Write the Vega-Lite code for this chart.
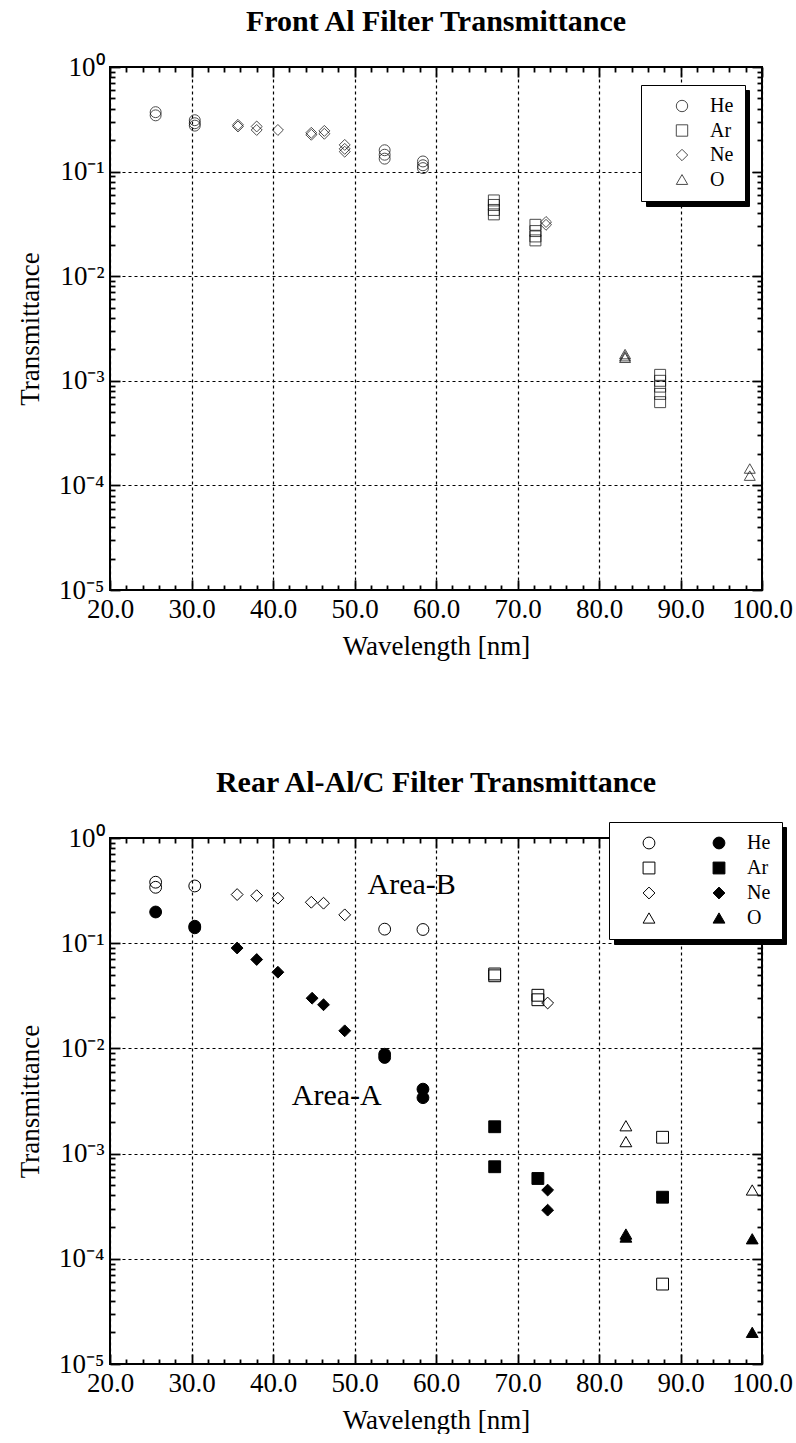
{
  "$schema": "https://vega.github.io/schema/vega-lite/v6.json",
  "background": "white",
  "padding": {"left": 15, "top": 6, "right": 0, "bottom": 0},
  "spacing": 106,
  "resolve": {"scale": {"shape": "independent", "fill": "independent", "stroke": "independent", "color": "independent"}, "legend": {"shape": "independent", "fill": "independent", "stroke": "independent", "color": "independent"}},
  "config": {
    "font": "Liberation Serif",
    "view": {"stroke": "black", "strokeWidth": 2},
    "axis": {"labelFont": "Liberation Serif", "titleFont": "Liberation Serif", "labelColor": "black", "titleColor": "black", "titleFontWeight": "normal", "labelFontSize": 27, "titleFontSize": 27, "domain": false, "tickColor": "black", "gridColor": "black", "gridDash": [3, 3], "gridWidth": 1.2, "tickWidth": 1.8}
  },
  "vconcat": [
    {
      "title": {"text": "Front Al Filter Transmittance", "fontSize": 30, "font": "Liberation Serif", "fontWeight": "bold", "color": "black", "anchor": "middle", "frame": "group", "baseline": "alphabetic", "offset": -8},
      "width": 652,
      "height": 523,
      "data": {"values": [
        {"element": "He", "wavelength": 25.6, "transmittance": 0.37},
        {"element": "He", "wavelength": 25.6, "transmittance": 0.345},
        {"element": "He", "wavelength": 30.4, "transmittance": 0.31},
        {"element": "He", "wavelength": 30.4, "transmittance": 0.29},
        {"element": "He", "wavelength": 30.4, "transmittance": 0.275},
        {"element": "Ne", "wavelength": 35.7, "transmittance": 0.28},
        {"element": "Ne", "wavelength": 35.7, "transmittance": 0.27},
        {"element": "Ne", "wavelength": 38.0, "transmittance": 0.27},
        {"element": "Ne", "wavelength": 38.0, "transmittance": 0.25},
        {"element": "Ne", "wavelength": 40.6, "transmittance": 0.25},
        {"element": "Ne", "wavelength": 44.7, "transmittance": 0.235},
        {"element": "Ne", "wavelength": 44.7, "transmittance": 0.225},
        {"element": "Ne", "wavelength": 46.3, "transmittance": 0.245},
        {"element": "Ne", "wavelength": 46.3, "transmittance": 0.23},
        {"element": "Ne", "wavelength": 48.8, "transmittance": 0.18},
        {"element": "Ne", "wavelength": 48.8, "transmittance": 0.165},
        {"element": "Ne", "wavelength": 48.8, "transmittance": 0.155},
        {"element": "He", "wavelength": 53.7, "transmittance": 0.16},
        {"element": "He", "wavelength": 53.7, "transmittance": 0.145},
        {"element": "He", "wavelength": 53.7, "transmittance": 0.133},
        {"element": "He", "wavelength": 58.4, "transmittance": 0.125},
        {"element": "He", "wavelength": 58.4, "transmittance": 0.115},
        {"element": "He", "wavelength": 58.4, "transmittance": 0.108},
        {"element": "Ar", "wavelength": 67.1, "transmittance": 0.053},
        {"element": "Ar", "wavelength": 67.1, "transmittance": 0.048},
        {"element": "Ar", "wavelength": 67.1, "transmittance": 0.043},
        {"element": "Ar", "wavelength": 67.1, "transmittance": 0.039},
        {"element": "Ar", "wavelength": 72.2, "transmittance": 0.031},
        {"element": "Ar", "wavelength": 72.2, "transmittance": 0.027},
        {"element": "Ar", "wavelength": 72.2, "transmittance": 0.024},
        {"element": "Ar", "wavelength": 72.2, "transmittance": 0.022},
        {"element": "Ne", "wavelength": 73.5, "transmittance": 0.033},
        {"element": "Ne", "wavelength": 73.5, "transmittance": 0.031},
        {"element": "O", "wavelength": 83.2, "transmittance": 0.0018},
        {"element": "O", "wavelength": 83.2, "transmittance": 0.00172},
        {"element": "O", "wavelength": 83.2, "transmittance": 0.00166},
        {"element": "Ar", "wavelength": 87.5, "transmittance": 0.00114},
        {"element": "Ar", "wavelength": 87.5, "transmittance": 0.001},
        {"element": "Ar", "wavelength": 87.5, "transmittance": 0.00088},
        {"element": "Ar", "wavelength": 87.5, "transmittance": 0.00075},
        {"element": "Ar", "wavelength": 87.5, "transmittance": 0.000625},
        {"element": "O", "wavelength": 98.5, "transmittance": 0.000145},
        {"element": "O", "wavelength": 98.5, "transmittance": 0.000124}
      ]},
      "layer": [
        {
          "mark": {"type": "point", "filled": false, "size": 120, "strokeWidth": 1, "color": "black"},
          "encoding": {
            "x": {"field": "wavelength", "type": "quantitative", "scale": {"domain": [20, 100], "nice": false, "zero": false},
              "axis": {"orient": "bottom", "title": "Wavelength [nm]", "values": [20,22,24,26,28,30,32,34,36,38,40,42,44,46,48,50,52,54,56,58,60,62,64,66,68,70,72,74,76,78,80,82,84,86,88,90,92,94,96,98,100], "labelExpr": "datum.value % 10 === 0 ? format(datum.value, '.1f') : ''", "labelFlush": false, "labelOverlap": false, "labelPadding": 16, "titlePadding": 6, "grid": true, "gridOpacity": {"condition": {"test": "datum.value % 10 !== 0", "value": 0}, "value": 1}, "ticks": true, "tickSize": {"condition": {"test": "datum.value % 10 === 0", "value": -10}, "value": -5}}},
            "y": {"field": "transmittance", "type": "quantitative", "scale": {"type": "log", "domain": [0.00001, 1], "nice": false},
              "axis": {"orient": "left", "title": "Transmittance", "values": [0.00001,0.00002,0.00003,0.00004,0.00005,0.00006,0.00007,0.00008,0.00009,0.0001,0.0002,0.0003,0.0004,0.0005,0.0006,0.0007,0.0008,0.0009,0.001,0.002,0.003,0.004,0.005,0.006,0.007,0.008,0.009,0.01,0.02,0.03,0.04,0.05,0.06,0.07,0.08,0.09,0.1,0.2,0.3,0.4,0.5,0.6,0.7,0.8,0.9,1], "labelExpr": "abs(log(datum.value)/LN10 - round(log(datum.value)/LN10)) < 0.001 ? '10' + ['⁰','⁻¹','⁻²','⁻³','⁻⁴','⁻⁵'][-round(log(datum.value)/LN10)] : ''", "labelOverlap": false, "labelPadding": 16, "titlePadding": 14, "grid": true, "gridOpacity": {"condition": {"test": "abs(log(datum.value)/LN10 - round(log(datum.value)/LN10)) < 0.001", "value": 1}, "value": 0}, "ticks": true, "tickSize": {"condition": {"test": "abs(log(datum.value)/LN10 - round(log(datum.value)/LN10)) < 0.001", "value": -10}, "value": -5}}},
            "shape": {"field": "element", "type": "nominal", "scale": {"domain": ["He", "Ar", "Ne", "O"], "range": ["circle", "square", "diamond", "triangle-up"]},
              "legend": {"orient": "none", "legendX": 531, "legendY": 18, "zindex": 2, "title": null, "direction": "vertical", "strokeColor": "black", "fillColor": "white", "padding": 11, "symbolSize": 130, "symbolStrokeColor": "black", "symbolStrokeWidth": 1, "symbolFillColor": "transparent", "symbolOffset": 20, "labelOffset": 18, "labelFontSize": 20, "labelFont": "Liberation Serif", "labelColor": "black", "rowPadding": 4.5}}
          }
        },
        {
          "mark": {"type": "point", "opacity": 0},
          "encoding": {
            "x": {"field": "wavelength", "type": "quantitative", "scale": {"domain": [20, 100], "nice": false, "zero": false},
              "axis": {"orient": "top", "title": null, "labels": false, "grid": false, "values": [20,22,24,26,28,30,32,34,36,38,40,42,44,46,48,50,52,54,56,58,60,62,64,66,68,70,72,74,76,78,80,82,84,86,88,90,92,94,96,98,100], "ticks": true, "tickSize": {"condition": {"test": "datum.value % 10 === 0", "value": -10}, "value": -5}}},
            "y": {"field": "transmittance", "type": "quantitative", "scale": {"type": "log", "domain": [0.00001, 1], "nice": false},
              "axis": {"orient": "right", "title": null, "labels": false, "grid": false, "values": [0.00001,0.00002,0.00003,0.00004,0.00005,0.00006,0.00007,0.00008,0.00009,0.0001,0.0002,0.0003,0.0004,0.0005,0.0006,0.0007,0.0008,0.0009,0.001,0.002,0.003,0.004,0.005,0.006,0.007,0.008,0.009,0.01,0.02,0.03,0.04,0.05,0.06,0.07,0.08,0.09,0.1,0.2,0.3,0.4,0.5,0.6,0.7,0.8,0.9,1], "ticks": true, "tickSize": {"condition": {"test": "abs(log(datum.value)/LN10 - round(log(datum.value)/LN10)) < 0.001", "value": -10}, "value": -5}}},
            "color": {"field": "element", "type": "nominal", "scale": {"domain": ["O", "Ne", "Ar", "He"], "range": ["black", "black", "black", "black"]},
              "legend": {"orient": "none", "legendX": 536, "legendY": 23, "zindex": 1, "title": null, "direction": "vertical", "strokeColor": "black", "fillColor": "black", "padding": 11, "symbolSize": 130, "symbolOffset": 20, "labelOffset": 41, "labelFontSize": 20, "labelFont": "Liberation Serif", "labelColor": "black", "rowPadding": 4.5, "labelExpr": "''"}}
          }
        }
      ],
      "resolve": {"axis": {"x": "independent", "y": "independent"}}
    },
    {
      "title": {"text": "Rear Al-Al/C Filter Transmittance", "fontSize": 30, "font": "Liberation Serif", "fontWeight": "bold", "color": "black", "anchor": "middle", "frame": "group", "baseline": "alphabetic", "offset": 0},
      "width": 652,
      "height": 526,
      "data": {"values": [
        {"series": "He-B", "wavelength": 25.6, "transmittance": 0.38},
        {"series": "He-B", "wavelength": 25.6, "transmittance": 0.34},
        {"series": "He-B", "wavelength": 30.4, "transmittance": 0.35},
        {"series": "He-B", "wavelength": 53.7, "transmittance": 0.136},
        {"series": "He-B", "wavelength": 58.4, "transmittance": 0.135},
        {"series": "Ne-B", "wavelength": 35.6, "transmittance": 0.29},
        {"series": "Ne-B", "wavelength": 38.0, "transmittance": 0.283},
        {"series": "Ne-B", "wavelength": 40.6, "transmittance": 0.268},
        {"series": "Ne-B", "wavelength": 44.7, "transmittance": 0.245},
        {"series": "Ne-B", "wavelength": 46.2, "transmittance": 0.24},
        {"series": "Ne-B", "wavelength": 48.8, "transmittance": 0.186},
        {"series": "Ne-B", "wavelength": 73.7, "transmittance": 0.027},
        {"series": "Ar-B", "wavelength": 67.2, "transmittance": 0.051},
        {"series": "Ar-B", "wavelength": 67.2, "transmittance": 0.049},
        {"series": "Ar-B", "wavelength": 72.5, "transmittance": 0.032},
        {"series": "Ar-B", "wavelength": 72.5, "transmittance": 0.029},
        {"series": "Ar-B", "wavelength": 87.8, "transmittance": 0.00143},
        {"series": "Ar-B", "wavelength": 87.8, "transmittance": 0.0000575},
        {"series": "O-B", "wavelength": 83.3, "transmittance": 0.00184},
        {"series": "O-B", "wavelength": 83.3, "transmittance": 0.0013},
        {"series": "O-B", "wavelength": 98.8, "transmittance": 0.000451},
        {"series": "He-A", "wavelength": 25.6, "transmittance": 0.198},
        {"series": "He-A", "wavelength": 30.4, "transmittance": 0.145},
        {"series": "He-A", "wavelength": 30.4, "transmittance": 0.14},
        {"series": "He-A", "wavelength": 53.7, "transmittance": 0.0088},
        {"series": "He-A", "wavelength": 53.7, "transmittance": 0.0082},
        {"series": "He-A", "wavelength": 58.4, "transmittance": 0.0041},
        {"series": "He-A", "wavelength": 58.4, "transmittance": 0.0034},
        {"series": "Ne-A", "wavelength": 35.6, "transmittance": 0.09},
        {"series": "Ne-A", "wavelength": 38.0, "transmittance": 0.07},
        {"series": "Ne-A", "wavelength": 40.6, "transmittance": 0.053},
        {"series": "Ne-A", "wavelength": 44.8, "transmittance": 0.03},
        {"series": "Ne-A", "wavelength": 46.2, "transmittance": 0.026},
        {"series": "Ne-A", "wavelength": 48.8, "transmittance": 0.0147},
        {"series": "Ne-A", "wavelength": 73.7, "transmittance": 0.00045},
        {"series": "Ne-A", "wavelength": 73.7, "transmittance": 0.00029},
        {"series": "Ar-A", "wavelength": 67.2, "transmittance": 0.0018},
        {"series": "Ar-A", "wavelength": 67.2, "transmittance": 0.00075},
        {"series": "Ar-A", "wavelength": 72.5, "transmittance": 0.00058},
        {"series": "Ar-A", "wavelength": 87.8, "transmittance": 0.000385},
        {"series": "O-A", "wavelength": 83.3, "transmittance": 0.000172},
        {"series": "O-A", "wavelength": 83.3, "transmittance": 0.000161},
        {"series": "O-A", "wavelength": 98.8, "transmittance": 0.000155},
        {"series": "O-A", "wavelength": 98.8, "transmittance": 0.00002}
      ]},
      "layer": [
        {
          "mark": {"type": "point", "filled": true, "size": 140, "strokeWidth": 1, "opacity": 1},
          "encoding": {
            "x": {"field": "wavelength", "type": "quantitative", "scale": {"domain": [20, 100], "nice": false, "zero": false},
              "axis": {"orient": "bottom", "title": "Wavelength [nm]", "values": [20,22,24,26,28,30,32,34,36,38,40,42,44,46,48,50,52,54,56,58,60,62,64,66,68,70,72,74,76,78,80,82,84,86,88,90,92,94,96,98,100], "labelExpr": "datum.value % 10 === 0 ? format(datum.value, '.1f') : ''", "labelFlush": false, "labelOverlap": false, "labelPadding": 16, "titlePadding": 6, "grid": true, "gridOpacity": {"condition": {"test": "datum.value % 10 !== 0", "value": 0}, "value": 1}, "ticks": true, "tickSize": {"condition": {"test": "datum.value % 10 === 0", "value": -10}, "value": -5}}},
            "y": {"field": "transmittance", "type": "quantitative", "scale": {"type": "log", "domain": [0.00001, 1], "nice": false},
              "axis": {"orient": "left", "title": "Transmittance", "values": [0.00001,0.00002,0.00003,0.00004,0.00005,0.00006,0.00007,0.00008,0.00009,0.0001,0.0002,0.0003,0.0004,0.0005,0.0006,0.0007,0.0008,0.0009,0.001,0.002,0.003,0.004,0.005,0.006,0.007,0.008,0.009,0.01,0.02,0.03,0.04,0.05,0.06,0.07,0.08,0.09,0.1,0.2,0.3,0.4,0.5,0.6,0.7,0.8,0.9,1], "labelExpr": "abs(log(datum.value)/LN10 - round(log(datum.value)/LN10)) < 0.001 ? '10' + ['⁰','⁻¹','⁻²','⁻³','⁻⁴','⁻⁵'][-round(log(datum.value)/LN10)] : ''", "labelOverlap": false, "labelPadding": 16, "titlePadding": 14, "grid": true, "gridOpacity": {"condition": {"test": "abs(log(datum.value)/LN10 - round(log(datum.value)/LN10)) < 0.001", "value": 1}, "value": 0}, "ticks": true, "tickSize": {"condition": {"test": "abs(log(datum.value)/LN10 - round(log(datum.value)/LN10)) < 0.001", "value": -10}, "value": -5}}},
            "shape": {"field": "series", "type": "nominal", "scale": {"domain": ["He-B", "He-A", "Ar-B", "Ar-A", "Ne-B", "Ne-A", "O-B", "O-A"], "range": ["circle", "circle", "square", "square", "diamond", "diamond", "triangle-up", "triangle-up"]},
              "legend": {"orient": "none", "legendX": 499, "legendY": -16, "zindex": 2, "title": null, "direction": "horizontal", "columns": 2, "columnPadding": 13, "strokeColor": "black", "fillColor": "white", "padding": 11, "symbolSize": 140, "symbolStrokeColor": "black", "symbolStrokeWidth": 1, "symbolOffset": 19, "labelOffset": 18, "labelFontSize": 20, "labelFont": "Liberation Serif", "labelColor": "black", "rowPadding": 5, "labelExpr": "indexof(datum.label, '-A') > 0 ? replace(datum.label, '-A', '') : ''"}},
            "fill": {"field": "series", "type": "nominal", "scale": {"domain": ["He-B", "He-A", "Ar-B", "Ar-A", "Ne-B", "Ne-A", "O-B", "O-A"], "range": ["transparent", "black", "transparent", "black", "transparent", "black", "transparent", "black"]},
              "legend": {"orient": "none", "legendX": 499, "legendY": -16, "zindex": 2, "title": null, "direction": "horizontal", "columns": 2, "columnPadding": 13, "strokeColor": "black", "fillColor": "white", "padding": 11, "symbolSize": 140, "symbolStrokeColor": "black", "symbolStrokeWidth": 1, "symbolOffset": 19, "labelOffset": 18, "labelFontSize": 20, "labelFont": "Liberation Serif", "labelColor": "black", "rowPadding": 5, "labelExpr": "indexof(datum.label, '-A') > 0 ? replace(datum.label, '-A', '') : ''"}},
            "stroke": {"field": "series", "type": "nominal", "scale": {"domain": ["He-B", "He-A", "Ar-B", "Ar-A", "Ne-B", "Ne-A", "O-B", "O-A"], "range": ["black", "black", "black", "black", "black", "black", "black", "black"]},
              "legend": {"orient": "none", "legendX": 499, "legendY": -16, "zindex": 2, "title": null, "direction": "horizontal", "columns": 2, "columnPadding": 13, "strokeColor": "black", "fillColor": "white", "padding": 11, "symbolSize": 140, "symbolStrokeColor": "black", "symbolStrokeWidth": 1, "symbolOffset": 19, "labelOffset": 18, "labelFontSize": 20, "labelFont": "Liberation Serif", "labelColor": "black", "rowPadding": 5, "labelExpr": "indexof(datum.label, '-A') > 0 ? replace(datum.label, '-A', '') : ''"}}
          }
        },
        {
          "mark": {"type": "point", "opacity": 0},
          "encoding": {
            "x": {"field": "wavelength", "type": "quantitative", "scale": {"domain": [20, 100], "nice": false, "zero": false},
              "axis": {"orient": "top", "title": null, "labels": false, "grid": false, "values": [20,22,24,26,28,30,32,34,36,38,40,42,44,46,48,50,52,54,56,58,60,62,64,66,68,70,72,74,76,78,80,82,84,86,88,90,92,94,96,98,100], "ticks": true, "tickSize": {"condition": {"test": "datum.value % 10 === 0", "value": -10}, "value": -5}}},
            "y": {"field": "transmittance", "type": "quantitative", "scale": {"type": "log", "domain": [0.00001, 1], "nice": false},
              "axis": {"orient": "right", "title": null, "labels": false, "grid": false, "values": [0.00001,0.00002,0.00003,0.00004,0.00005,0.00006,0.00007,0.00008,0.00009,0.0001,0.0002,0.0003,0.0004,0.0005,0.0006,0.0007,0.0008,0.0009,0.001,0.002,0.003,0.004,0.005,0.006,0.007,0.008,0.009,0.01,0.02,0.03,0.04,0.05,0.06,0.07,0.08,0.09,0.1,0.2,0.3,0.4,0.5,0.6,0.7,0.8,0.9,1], "ticks": true, "tickSize": {"condition": {"test": "abs(log(datum.value)/LN10 - round(log(datum.value)/LN10)) < 0.001", "value": -10}, "value": -5}}},
            "color": {"field": "series", "type": "nominal", "scale": {"domain": ["O-A", "O-B", "Ne-A", "Ne-B", "Ar-A", "Ar-B", "He-A", "He-B"], "range": ["black", "black", "black", "black", "black", "black", "black", "black"]},
              "legend": {"orient": "none", "legendX": 504, "legendY": -11, "zindex": 1, "title": null, "direction": "horizontal", "columns": 2, "columnPadding": 36, "strokeColor": "black", "fillColor": "black", "padding": 11, "symbolSize": 140, "symbolOffset": 19, "labelOffset": 18, "labelFontSize": 20, "labelFont": "Liberation Serif", "labelColor": "black", "rowPadding": 5, "labelExpr": "''"}}
          }
        },
        {
          "data": {"values": [
            {"label": "Area-B", "wavelength": 51.6, "transmittance": 0.294},
            {"label": "Area-A", "wavelength": 42.3, "transmittance": 0.0029}
          ]},
          "mark": {"type": "text", "align": "left", "baseline": "alphabetic", "font": "Liberation Serif", "fontSize": 30, "color": "black"},
          "encoding": {
            "x": {"field": "wavelength", "type": "quantitative", "scale": {"domain": [20, 100], "nice": false, "zero": false}, "axis": null},
            "y": {"field": "transmittance", "type": "quantitative", "scale": {"type": "log", "domain": [0.00001, 1], "nice": false}, "axis": null},
            "text": {"field": "label"}
          }
        }
      ],
      "resolve": {"axis": {"x": "independent", "y": "independent"}}
    }
  ]
}
